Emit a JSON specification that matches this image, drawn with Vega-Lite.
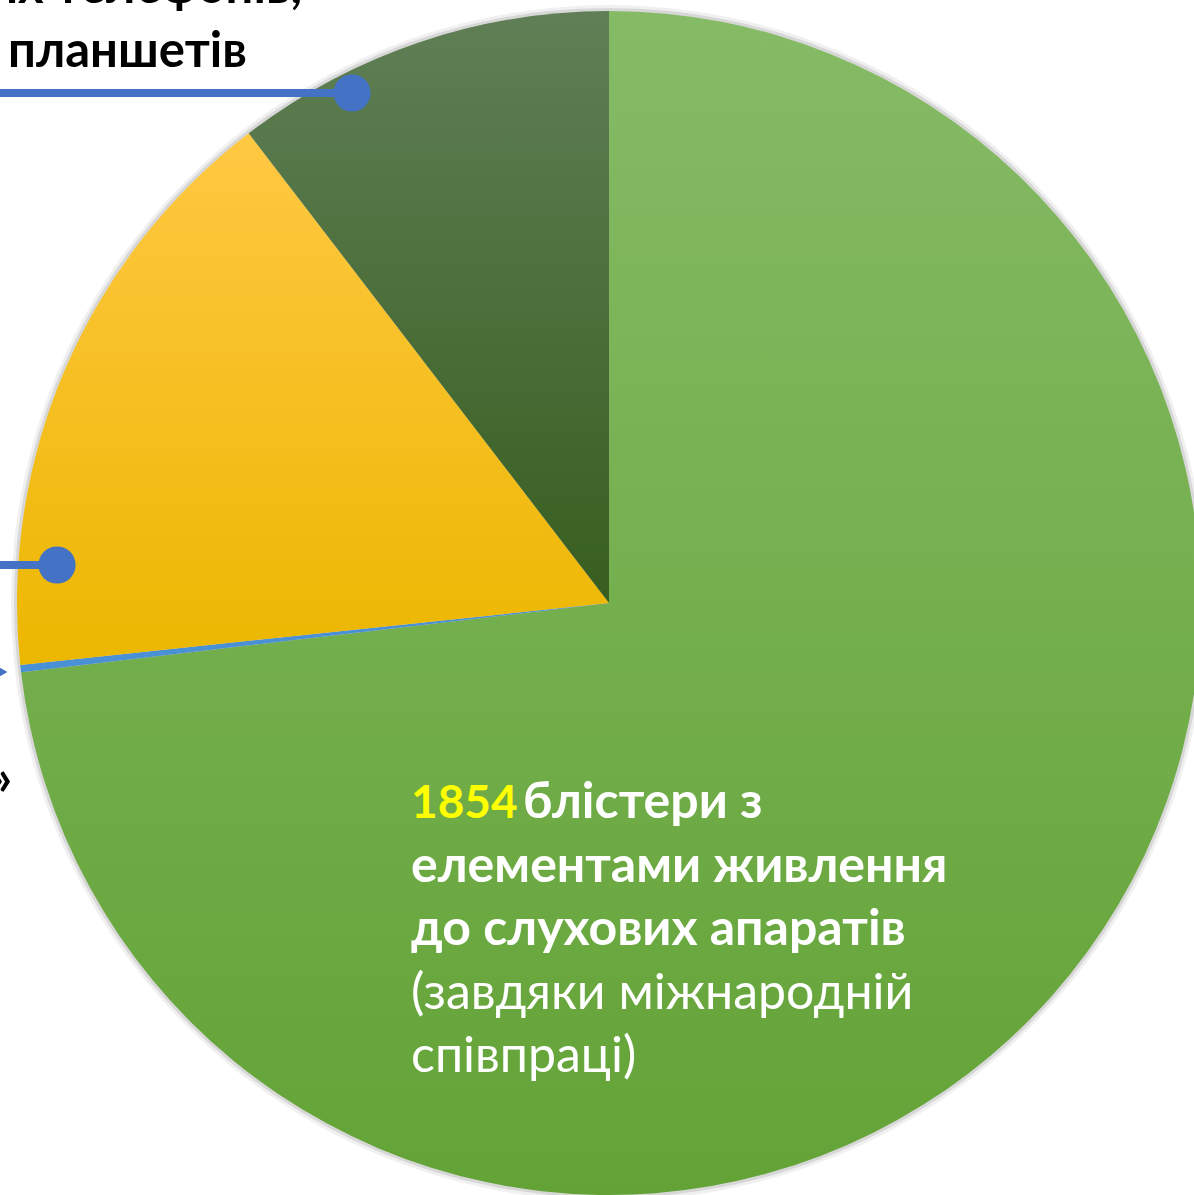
{
  "$schema": "https://vega.github.io/schema/vega-lite/v6.json",
  "autosize": {"type": "none"},
  "padding": {"left": 24, "top": 11, "right": 0, "bottom": 0},
  "width": 1170,
  "height": 1184,
  "background": "white",
  "config": {"view": {"stroke": null}},
  "datasets": {
    "slices": [
      {"category": "блістери з елементами живлення до слухових апаратів", "value": 1854, "order": 1},
      {"category": "»", "value": 5, "order": 2},
      {"category": "друга категорія", "value": 412, "order": 3},
      {"category": "мобільних телефонів, планшетів", "value": 264, "order": 4}
    ],
    "leaders": [
      {"category": "мобільних телефонів, планшетів", "x_from": -1.02872, "x_to": -0.43412, "y": 0.86149},
      {"category": "друга категорія", "x_from": -1.02872, "x_to": -0.93243, "y": 0.06419}
    ],
    "arrows": [
      {"category": "»", "x": -1.02703, "y": -0.11655}
    ],
    "labels": [
      {"role": "value", "text": "1854", "x": -0.33446, "y": -0.36318},
      {"role": "title", "text": "блістери з", "x": -0.14527, "y": -0.36318},
      {"role": "title", "text": "елементами живлення", "x": -0.33446, "y": -0.47128},
      {"role": "title", "text": "до слухових апаратів", "x": -0.33446, "y": -0.57770},
      {"role": "note", "text": "(завдяки міжнародній", "x": -0.33446, "y": -0.68497},
      {"role": "note", "text": "співпраці)", "x": -0.33446, "y": -0.79223},
      {"role": "outside", "text": "планшетів", "x": -1.0152, "y": 0.90541},
      {"role": "outside_right", "text": "мобільних телефонів,", "x": -0.51858, "y": 1.01351},
      {"role": "outside_right", "text": "»", "x": -1.00845, "y": -0.32432}
    ]
  },
  "layer": [
    {
      "data": {"name": "slices"},
      "mark": {"type": "arc", "outerRadius": 598, "stroke": null, "color": "#000000", "opacity": 0.06},
      "encoding": {
        "theta": {"aggregate": "sum", "field": "value", "type": "quantitative"}
      }
    },
    {
      "data": {"name": "slices"},
      "mark": {"type": "arc", "outerRadius": 595, "stroke": null, "color": "#000000", "opacity": 0.1},
      "encoding": {
        "theta": {"aggregate": "sum", "field": "value", "type": "quantitative"}
      }
    },
    {
      "data": {"name": "slices"},
      "mark": {"type": "arc", "outerRadius": 592, "stroke": null},
      "encoding": {
        "theta": {"field": "value", "type": "quantitative", "stack": true},
        "order": {"field": "order", "type": "quantitative"},
        "color": {
          "condition": [
            {"test": "datum.order === 1", "value": {"gradient": "linear", "x1": 0, "y1": 0, "x2": 0, "y2": 1, "stops": [{"offset": 0, "color": "#86BB66"}, {"offset": 1, "color": "#63A336"}]}},
            {"test": "datum.order === 2", "value": "#4A90D4"},
            {"test": "datum.order === 3", "value": {"gradient": "linear", "x1": 0, "y1": 0, "x2": 0, "y2": 1, "stops": [{"offset": 0, "color": "#FFC843"}, {"offset": 1, "color": "#ECB700"}]}}
          ],
          "value": {"gradient": "linear", "x1": 0, "y1": 0, "x2": 0, "y2": 1, "stops": [{"offset": 0, "color": "#607F56"}, {"offset": 1, "color": "#375E1F"}]}
        }
      }
    },
    {
      "data": {"name": "leaders"},
      "mark": {"type": "rule", "color": "#4472C4", "strokeWidth": 8},
      "encoding": {
        "x": {"field": "x_from", "type": "quantitative", "scale": {"domain": [-0.98818, 0.98818], "nice": false, "zero": false}, "axis": null},
        "x2": {"field": "x_to"},
        "y": {"field": "y", "type": "quantitative", "scale": {"domain": [-1, 1], "nice": false, "zero": false}, "axis": null}
      }
    },
    {
      "data": {"name": "leaders"},
      "mark": {"type": "point", "shape": "circle", "filled": true, "size": 1385, "color": "#4472C4", "opacity": 1},
      "encoding": {
        "x": {"field": "x_to", "type": "quantitative"},
        "y": {"field": "y", "type": "quantitative"}
      }
    },
    {
      "data": {"name": "arrows"},
      "mark": {"type": "point", "shape": "triangle-right", "filled": true, "size": 220, "color": "#4472C4", "opacity": 1},
      "encoding": {
        "x": {"field": "x", "type": "quantitative"},
        "y": {"field": "y", "type": "quantitative"}
      }
    },
    {
      "data": {"name": "labels"},
      "transform": [{"filter": "datum.role === 'value'"}],
      "mark": {"type": "text", "font": "Lato", "fontWeight": "bold", "fontSize": 46, "color": "#FFFF00", "align": "left", "baseline": "alphabetic"},
      "encoding": {
        "x": {"field": "x", "type": "quantitative"},
        "y": {"field": "y", "type": "quantitative"},
        "text": {"field": "text"}
      }
    },
    {
      "data": {"name": "labels"},
      "transform": [{"filter": "datum.role === 'title'"}],
      "mark": {"type": "text", "font": "Lato", "fontWeight": "bold", "fontSize": 50, "color": "#FFFFFF", "align": "left", "baseline": "alphabetic"},
      "encoding": {
        "x": {"field": "x", "type": "quantitative"},
        "y": {"field": "y", "type": "quantitative"},
        "text": {"field": "text"}
      }
    },
    {
      "data": {"name": "labels"},
      "transform": [{"filter": "datum.role === 'note'"}],
      "mark": {"type": "text", "font": "Lato", "fontWeight": "normal", "fontSize": 50, "color": "#FFFFFF", "align": "left", "baseline": "alphabetic"},
      "encoding": {
        "x": {"field": "x", "type": "quantitative"},
        "y": {"field": "y", "type": "quantitative"},
        "text": {"field": "text"}
      }
    },
    {
      "data": {"name": "labels"},
      "transform": [{"filter": "datum.role === 'outside'"}],
      "mark": {"type": "text", "font": "Lato", "fontWeight": "bold", "fontSize": 49, "color": "#000000", "align": "left", "baseline": "alphabetic"},
      "encoding": {
        "x": {"field": "x", "type": "quantitative"},
        "y": {"field": "y", "type": "quantitative"},
        "text": {"field": "text"}
      }
    },
    {
      "data": {"name": "labels"},
      "transform": [{"filter": "datum.role === 'outside_right'"}],
      "mark": {"type": "text", "font": "Lato", "fontWeight": "bold", "fontSize": 49, "color": "#000000", "align": "right", "baseline": "alphabetic"},
      "encoding": {
        "x": {"field": "x", "type": "quantitative"},
        "y": {"field": "y", "type": "quantitative"},
        "text": {"field": "text"}
      }
    }
  ]
}
